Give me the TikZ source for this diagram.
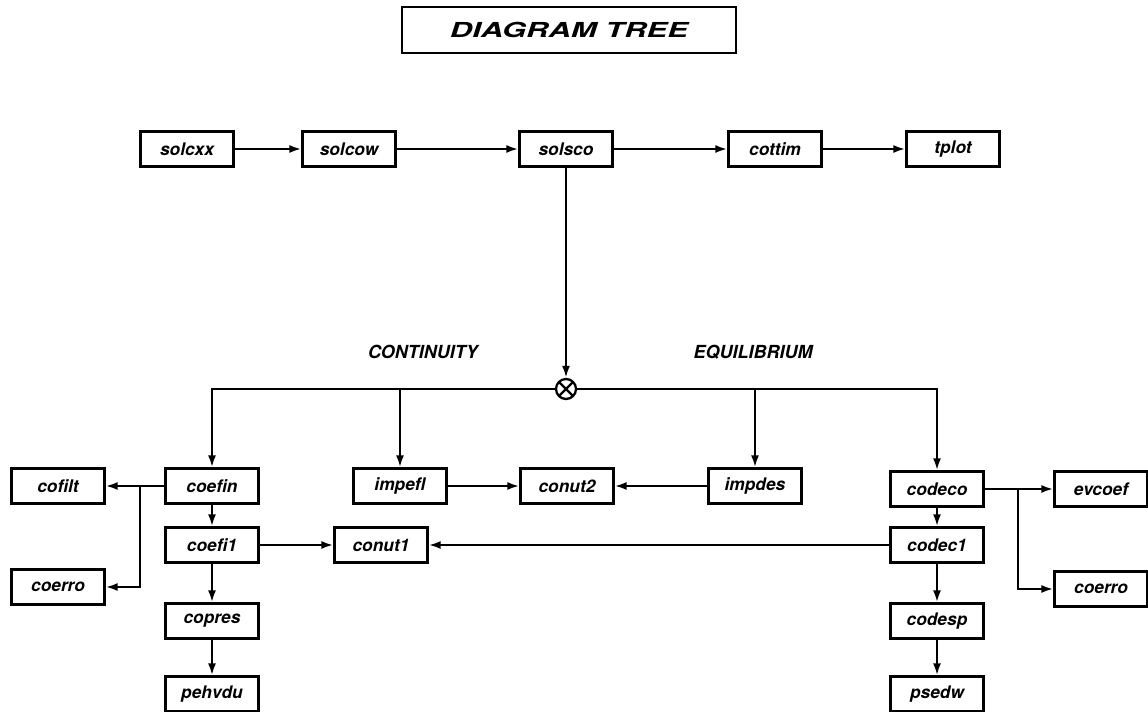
\documentclass[tikz,border=0pt]{standalone}
\usepackage{fontspec}
\setmainfont{TeX Gyre Heros}
\newfontfamily\titlefont[FakeStretch=1.5]{TeX Gyre Heros}
\usetikzlibrary{arrows.meta}

\tikzset{%
        module/.style={
                rectangle,
                draw,
                line width=1.7pt,
                minimum width=69.75pt,
                minimum height=26.25pt,
                inner sep=0pt,
                font=\fontsize{13}{15}\selectfont\bfseries\itshape
            },
        branch/.style={
                font=\fontsize{13.5}{15}\selectfont\bfseries\itshape
            },
        junction/.style={
                circle,
                draw,
                line width=1.7pt,
                minimum size=15pt,
                inner sep=0pt,
                path picture={
                    \draw[line width=1.7pt] (path picture bounding box.north west) -- (path picture bounding box.south east);
                    \draw[line width=1.7pt] (path picture bounding box.north east) -- (path picture bounding box.south west);
                }
            }
    }

\begin{document}
\begin{tikzpicture}[x=0.75pt, y=-0.75pt, line width=1.7pt, >={Latex[length=9pt,width=6pt]}]
    \useasboundingbox (0,0) rectangle (1148,712);

    % title:
        \node [draw, line width=1.5pt, minimum width=250.5pt, minimum height=34.5pt,
               font=\titlefont\fontsize{15.5}{17}\selectfont\bfseries\itshape] (title) at (569,30) {DIAGRAM TREE};

    % main chain:
        \node [module]  (solcxx) at (187,149) {solcxx};
        \node [module]  (solcow) at (349,149) {solcow};
        \node [module]  (solsco) at (566,149) {solsco};
        \node [module]  (cottim) at (775,149) {cottim};
        \node [module]  (tplot) at (953,149) {tplot};

        \draw[->] (solcxx) -- (solcow);
        \draw[->] (solcow) -- (solsco);
        \draw[->] (solsco) -- (cottim);
        \draw[->] (cottim) -- (tplot);

    % split into continuity and equilibrium:
        \node [junction] (hub) at (566,389) {};
        \node [branch]  (cont) at (423,352) {CONTINUITY};
        \node [branch]  (equi) at (753,352) {EQUILIBRIUM};

        \draw[->] (solsco) -- (hub);

    % continuity side:
        \node [module]  (cofilt) at (58,486) {cofilt};
        \node [module]  (coefin) at (212,486) {coefin};
        \node [module]  (impefl) at (400,486) {impefl};
        \node [module]  (coefi1) at (212,545) {coefi1};
        \node [module]  (conut1) at (381,545) {conut1};
        \node [module]  (coerroa) at (58,587) {coerro};
        \node [module]  (copres) at (212,621) {copres};
        \node [module]  (pehvdu) at (212,694) {pehvdu};
        \coordinate (jl) at (140,486);

        \draw[->] (hub.west) -| (coefin.north);
        \draw[->] (impefl |- hub) -- (impefl);
        \draw[->] (coefin) -- (cofilt);
        \draw[->] (jl) |- (coerroa);
        \draw[->] (coefin) -- (coefi1);
        \draw[->] (coefi1) -- (conut1);
        \draw[->] (coefi1) -- (copres);
        \draw[->] (copres) -- (pehvdu);

    % equilibrium side:
        \node [module]  (conut2) at (567,486) {conut2};
        \node [module]  (impdes) at (755,486) {impdes};
        \node [module]  (codeco) at (937,489) {codeco};
        \node [module]  (evcoef) at (1101,489) {evcoef};
        \node [module]  (codec1) at (937,545) {codec1};
        \node [module]  (coerrob) at (1101,589) {coerro};
        \node [module]  (codesp) at (937,621) {codesp};
        \node [module]  (psedw) at (937,694) {psedw};
        \coordinate (jr) at (1018,489);

        \draw[->] (hub.east) -| (codeco.north);
        \draw[->] (impdes |- hub) -- (impdes);
        \draw[->] (impefl) -- (conut2);
        \draw[->] (impdes) -- (conut2);
        \draw[->] (codeco) -- (evcoef);
        \draw[->] (jr) |- (coerrob);
        \draw[->] (codeco) -- (codec1);
        \draw[->] (codec1) -- (conut1);
        \draw[->] (codec1) -- (codesp);
        \draw[->] (codesp) -- (psedw);
    \end{tikzpicture}
\end{document}
